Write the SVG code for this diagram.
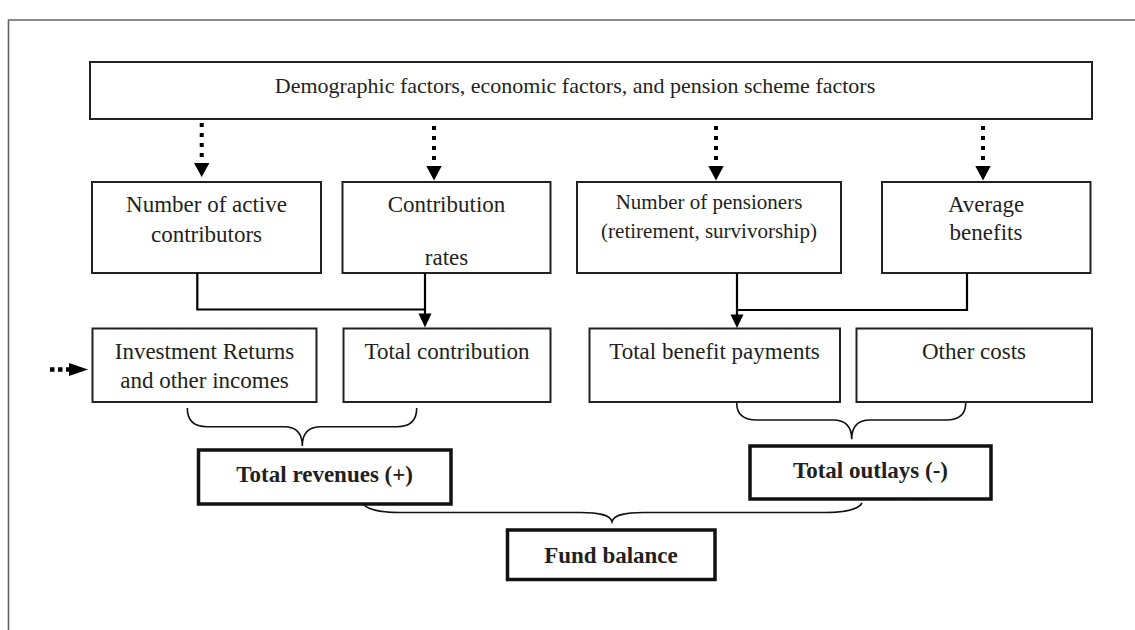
<svg xmlns="http://www.w3.org/2000/svg" width="1135" height="630" viewBox="0 0 1135 630">
<style>
  .box { fill: #fff; stroke: #222; stroke-width: 2; }
  .bold-box { fill: #fff; stroke: #111; stroke-width: 3.5; }
  .t { font-family: "Liberation Serif", "Times New Roman", serif; font-size: 23px; fill: #231f20; text-anchor: middle; }
  .tb { font-family: "Liberation Serif", "Times New Roman", serif; font-size: 23px; font-weight: bold; fill: #231f20; text-anchor: middle; }
  .dot { fill: none; stroke: #000; stroke-width: 4; stroke-dasharray: 4 6; }
  .line { fill: none; stroke: #000; stroke-width: 2.2; }
  .brace { fill: none; stroke: #111; stroke-width: 1.6; }
  .frame { fill: none; stroke: #666; stroke-width: 1.6; }
</style>
<rect width="1135" height="630" fill="#fff"/>
<path class="frame" d="M8.5,630 L8.5,20 L1135,20"/>

<g id="factors">
  <rect class="box" x="90" y="62" width="1002" height="57"/>
  <text class="t" x="575" y="93" style="font-size:22px">Demographic factors, economic factors, and pension scheme factors</text>
</g>
<g id="active-contributors">
  <rect class="box" x="92" y="182" width="229" height="91"/>
  <text class="t" x="206.5" y="212">Number of active</text>
  <text class="t" x="206.5" y="242">contributors</text>
</g>
<g id="contribution-rates">
  <rect class="box" x="342.5" y="182" width="208" height="91"/>
  <text class="t" x="446.5" y="212">Contribution</text>
  <text class="t" x="446.5" y="265">rates</text>
</g>
<g id="pensioners">
  <rect class="box" x="577" y="182" width="264" height="91"/>
  <text class="t" x="709" y="208.5" style="font-size:21px">Number of pensioners</text>
  <text class="t" x="709" y="237.5" style="font-size:21px">(retirement, survivorship)</text>
</g>
<g id="average-benefits">
  <rect class="box" x="882" y="182" width="208.5" height="91"/>
  <text class="t" x="986" y="212">Average</text>
  <text class="t" x="986" y="240">benefits</text>
</g>
<g id="investment-returns">
  <rect class="box" x="92.5" y="328.5" width="224" height="73.5"/>
  <text class="t" x="204.5" y="359">Investment Returns</text>
  <text class="t" x="204.5" y="388">and other incomes</text>
</g>
<g id="total-contribution">
  <rect class="box" x="343.5" y="328.5" width="207" height="73.5"/>
  <text class="t" x="447" y="359">Total contribution</text>
</g>
<g id="total-benefit-payments">
  <rect class="box" x="589.5" y="328.5" width="250.5" height="73.5"/>
  <text class="t" x="714.5" y="359">Total benefit payments</text>
</g>
<g id="other-costs">
  <rect class="box" x="856.5" y="328.5" width="235.5" height="73.5"/>
  <text class="t" x="974" y="359">Other costs</text>
</g>
<g id="total-revenues">
  <rect class="bold-box" x="198.5" y="450" width="252.5" height="54"/>
  <text class="tb" x="324.7" y="482">Total revenues (+)</text>
</g>
<g id="total-outlays">
  <rect class="bold-box" x="750" y="446" width="241" height="53"/>
  <text class="tb" x="870.5" y="478">Total outlays (-)</text>
</g>
<g id="fund-balance">
  <rect class="bold-box" x="507.5" y="530" width="207.5" height="49.5"/>
  <text class="tb" x="611" y="563">Fund balance</text>
</g>

<g id="connectors">
  <line class="dot" x1="201.7" y1="123" x2="201.7" y2="163"/>
  <path d="M194,163 L209.4,163 L201.7,177 Z" fill="#000"/>
  <line class="dot" x1="434" y1="126" x2="434" y2="166"/>
  <path d="M426.3,166 L441.7,166 L434,180.5 Z" fill="#000"/>
  <line class="dot" x1="716" y1="126" x2="716" y2="166"/>
  <path d="M708.3,166 L723.7,166 L716,180.5 Z" fill="#000"/>
  <line class="dot" x1="983" y1="126" x2="983" y2="166"/>
  <path d="M975.3,166 L990.7,166 L983,180.5 Z" fill="#000"/>
  <line class="dot" x1="50" y1="369.5" x2="70" y2="369.5" style="stroke-width:4.5;stroke-dasharray:4.5 3.5"/>
  <path d="M69,363 L88,369.5 L69,376 Z" fill="#000"/>

  <path class="line" d="M197.3,273 L197.3,309.5 L425,309.5"/>
  <line class="line" x1="425" y1="273" x2="425" y2="314"/>
  <path d="M418.5,313.5 L431.5,313.5 L425,327.5 Z" fill="#000"/>
  <path class="line" d="M967,273 L967,310 L737,310"/>
  <line class="line" x1="737" y1="273" x2="737" y2="315"/>
  <path d="M730.5,314.5 L743.5,314.5 L737,328 Z" fill="#000"/>

  <path class="brace" d="M187.3,408 C187.3,420 193,426.7 207,426.7 L284,426.7 C296,426.7 302.3,433 302.3,446 C302.3,433 309,426.7 321,426.7 L397,426.7 C411,426.7 416.7,420 416.7,408"/>
  <path class="brace" d="M736.7,403 C736.7,414 743,420 757,420 L833,420 C845,420 851.7,426 851.7,439.3 C851.7,426 858,420 870,420 L946,420 C960,420 965.7,414 965.7,403"/>
  <path class="brace" d="M363,504 C368,510 380,512.5 400,512.5 L580,512.5 C600,512.5 610,515 612,521.7 C614,515 624,512.5 644,512.5 L825,512.5 C845,512.5 858,510 862,503"/>
</g>
</svg>
